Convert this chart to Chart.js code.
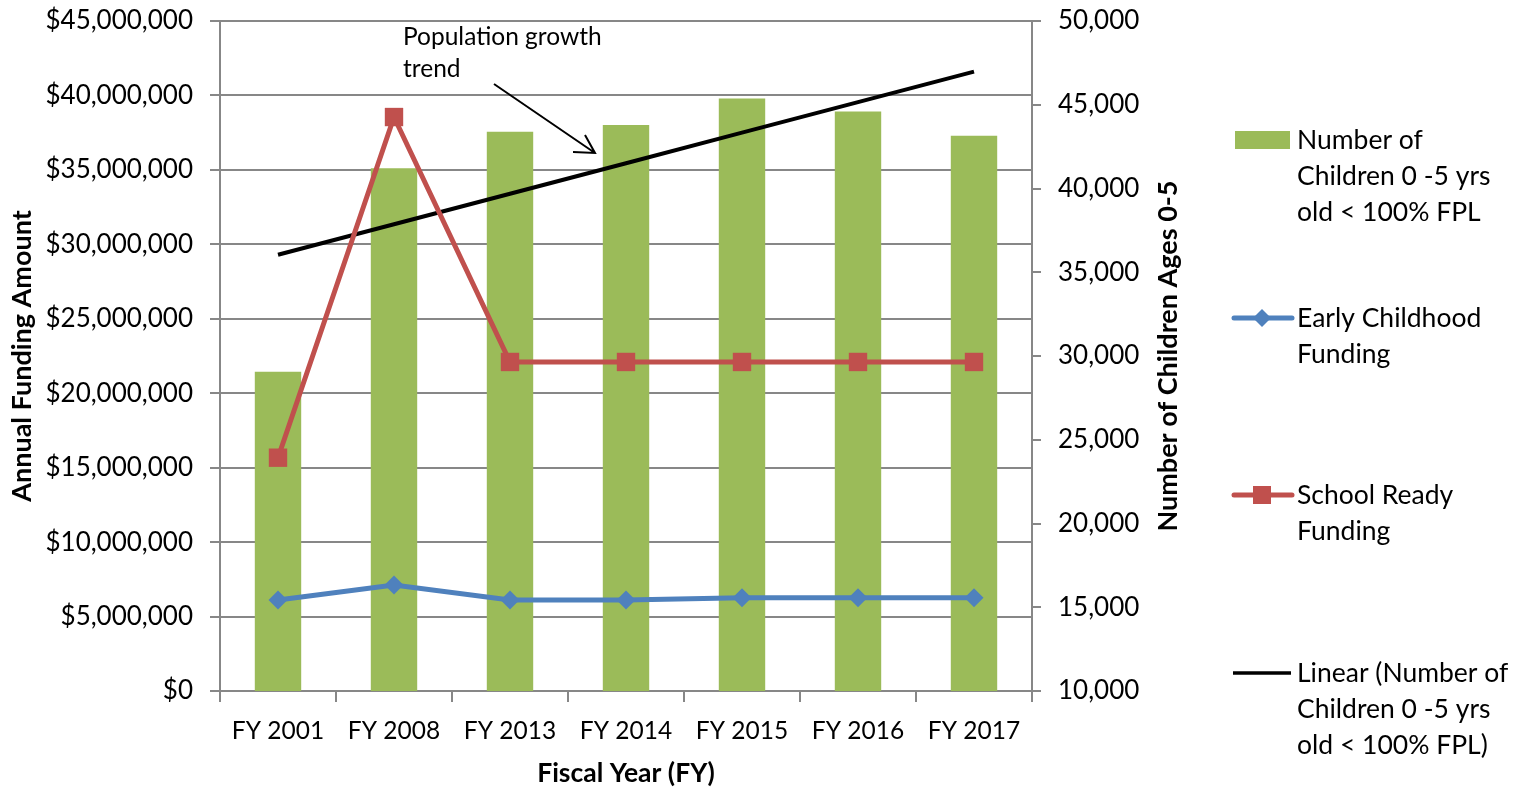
<!DOCTYPE html>
<html lang="en">
<head>
<meta charset="UTF-8">
<title>Funding and Children Below Poverty</title>
<script src="https://cdn.jsdelivr.net/npm/chart.js"></script>
<style>
  html, body { margin: 0; padding: 0; background: #fff; }
  .chart-box { width: 1528px; height: 789px; }
</style>
</head>
<body>
<div class="chart-box"><canvas id="fundingChart" width="1528" height="789"></canvas></div>
<script>
// data
const years = ['FY 2001', 'FY 2008', 'FY 2013', 'FY 2014', 'FY 2015', 'FY 2016', 'FY 2017'];
const children = [29060, 41210, 43390, 43790, 45380, 44590, 43150];
const earlyChildhood = [6110000, 7120000, 6110000, 6110000, 6270000, 6270000, 6270000];
const schoolReady = [15670000, 38550000, 22100000, 22100000, 22100000, 22100000, 22100000];
const fundingTicks = [0, 5000000, 10000000, 15000000, 20000000, 25000000, 30000000, 35000000, 40000000, 45000000];
const childTicks = [10000, 15000, 20000, 25000, 30000, 35000, 40000, 45000, 50000];

const GREEN = '#9BBB59';
const BLUE = '#4F81BD';
const RED = '#C0504D';
const GRID = '#878787';
const FONT = 'Lato';

// least squares trend through the children counts (like Excel's linear trendline)
function linearTrend(values) {
    const n = values.length;
    let sx = 0, sy = 0, sxy = 0, sxx = 0;
    values.forEach((v, i) => { sx += i; sy += v; sxy += i * v; sxx += i * i; });
    const slope = (n * sxy - sx * sy) / (n * sxx - sx * sx);
    const icpt = (sy - slope * sx) / n;
    return values.map((v, i) => icpt + slope * i);
}
const trend = linearTrend(children);

// legend, right axis title and the arrow note are drawn by hand
const extrasPlugin = {
    id: 'extras',
    afterDraw(chart) {
        const ctx = chart.ctx;
        const y1 = chart.scales.y1;
        ctx.save();

        // right axis title, reading bottom to top
        ctx.font = 'bold 27px ' + FONT;
        ctx.fillStyle = '#000';
        ctx.textAlign = 'center';
        ctx.textBaseline = 'middle';
        ctx.translate(1168, (y1.top + y1.bottom) / 2);
        ctx.rotate(-Math.PI / 2);
        ctx.fillText('Number of Children Ages 0-5', 0, 0);
        ctx.setTransform(1, 0, 0, 1, 0, 0);

        // note
        ctx.font = '24.5px ' + FONT;
        ctx.textAlign = 'left';
        ctx.fillText('Population growth', 403, 37);
        ctx.fillText('trend', 403, 69);
        ctx.strokeStyle = '#000';
        ctx.lineWidth = 2;
        ctx.beginPath();
        ctx.moveTo(494, 84);
        ctx.lineTo(595, 153);
        ctx.moveTo(573, 152);
        ctx.lineTo(595, 153);
        ctx.lineTo(585, 135);
        ctx.stroke();

        // legend
        ctx.font = '26.5px ' + FONT;
        const tx = 1297;
        ctx.fillStyle = GREEN;
        ctx.fillRect(1235, 131, 55, 18);
        ctx.fillStyle = '#000';
        ['Number of', 'Children 0 -5 yrs', 'old < 100% FPL'].forEach((t, i) => ctx.fillText(t, tx, 140 + i * 36));

        ctx.lineCap = 'round';
        ctx.strokeStyle = BLUE;
        ctx.lineWidth = 5;
        ctx.beginPath(); ctx.moveTo(1234, 318); ctx.lineTo(1292, 318); ctx.stroke();
        ctx.fillStyle = BLUE;
        ctx.beginPath();
        ctx.moveTo(1262, 309); ctx.lineTo(1271, 318); ctx.lineTo(1262, 327); ctx.lineTo(1253, 318);
        ctx.closePath(); ctx.fill();
        ctx.fillStyle = '#000';
        ['Early Childhood', 'Funding'].forEach((t, i) => ctx.fillText(t, tx, 318 + i * 36));

        ctx.strokeStyle = RED;
        ctx.beginPath(); ctx.moveTo(1234, 495); ctx.lineTo(1292, 495); ctx.stroke();
        ctx.fillStyle = RED;
        ctx.fillRect(1253, 486, 18, 18);
        ctx.fillStyle = '#000';
        ['School Ready', 'Funding'].forEach((t, i) => ctx.fillText(t, tx, 495 + i * 36));

        ctx.lineCap = 'butt';
        ctx.strokeStyle = '#000';
        ctx.lineWidth = 3.5;
        ctx.beginPath(); ctx.moveTo(1233, 673); ctx.lineTo(1291, 673); ctx.stroke();
        ['Linear (Number of', 'Children 0 -5 yrs', 'old < 100% FPL)'].forEach((t, i) => ctx.fillText(t, tx, 673 + i * 36));

        ctx.restore();
    }
};

Chart.defaults.font.family = FONT;
Chart.defaults.color = '#000';

// keep the value axes from reserving room for their end labels
function fixWidth(w) {
    return s => { s.width = w; s.paddingTop = 0; s.paddingBottom = 0; };
}

const ctx = document.getElementById('fundingChart').getContext('2d');
const fundingChart = new Chart(ctx, {
    type: 'bar',
    data: {
        labels: years,
        datasets: [
            {
                type: 'line',
                label: 'Early Childhood Funding',
                data: earlyChildhood,
                yAxisID: 'y',
                borderColor: BLUE,
                backgroundColor: BLUE,
                borderWidth: 5,
                pointStyle: 'rectRot',
                pointRadius: 9.5,
                pointBorderWidth: 0,
                tension: 0,
                order: 1
            },
            {
                type: 'line',
                label: 'School Ready Funding',
                data: schoolReady,
                yAxisID: 'y',
                borderColor: RED,
                backgroundColor: RED,
                borderWidth: 5,
                pointStyle: 'rect',
                pointRadius: 13,
                pointBorderWidth: 0,
                tension: 0,
                order: 2
            },
            {
                type: 'line',
                label: 'Linear (Number of Children 0 -5 yrs old < 100% FPL)',
                data: trend,
                yAxisID: 'y1',
                borderColor: '#000',
                borderWidth: 4,
                pointRadius: 0,
                order: 3
            },
            {
                label: 'Number of Children 0 -5 yrs old < 100% FPL',
                data: children,
                yAxisID: 'y1',
                backgroundColor: GREEN,
                barPercentage: 0.4,
                categoryPercentage: 1,
                order: 4
            }
        ]
    },
    options: {
        responsive: false,
        animation: false,
        layout: { padding: { top: 21, left: 0, right: 338, bottom: 0 } },
        plugins: {
            legend: { display: false },
            tooltip: { enabled: false }
        },
        scales: {
            x: {
                grid: { drawOnChartArea: false, color: GRID, tickLength: 11, lineWidth: 2 },
                border: { color: GRID, width: 2 },
                ticks: { font: { size: 24.5 }, padding: 14, maxRotation: 0 },
                title: { display: true, text: 'Fiscal Year (FY)', font: { size: 26.5, weight: 'bold' }, padding: { top: 0, bottom: 0 } },
                afterFit: s => { s.height = 98; }
            },
            y: {
                position: 'left',
                min: fundingTicks[0],
                max: fundingTicks[fundingTicks.length - 1],
                afterBuildTicks: s => { s.ticks = fundingTicks.map(v => ({ value: v })); },
                grid: { color: GRID, lineWidth: 2, tickLength: 10 },
                border: { color: GRID, width: 2 },
                ticks: {
                    font: { size: 26 },
                    padding: 17,
                    callback: v => '$' + v.toLocaleString('en-US')
                },
                title: { display: true, text: 'Annual Funding Amount', font: { size: 27, weight: 'bold' }, padding: { top: 6, bottom: 0 } },
                afterFit: fixWidth(220)
            },
            y1: {
                position: 'right',
                min: childTicks[0],
                max: childTicks[childTicks.length - 1],
                afterBuildTicks: s => { s.ticks = childTicks.map(v => ({ value: v })); },
                grid: { drawOnChartArea: false, color: GRID, lineWidth: 2, tickLength: 9 },
                border: { color: GRID, width: 2 },
                ticks: {
                    font: { size: 26 },
                    padding: 17,
                    callback: v => v.toLocaleString('en-US')
                },
                afterFit: fixWidth(158)
            }
        }
    },
    plugins: [extrasPlugin]
});
</script>
</body>
</html>
